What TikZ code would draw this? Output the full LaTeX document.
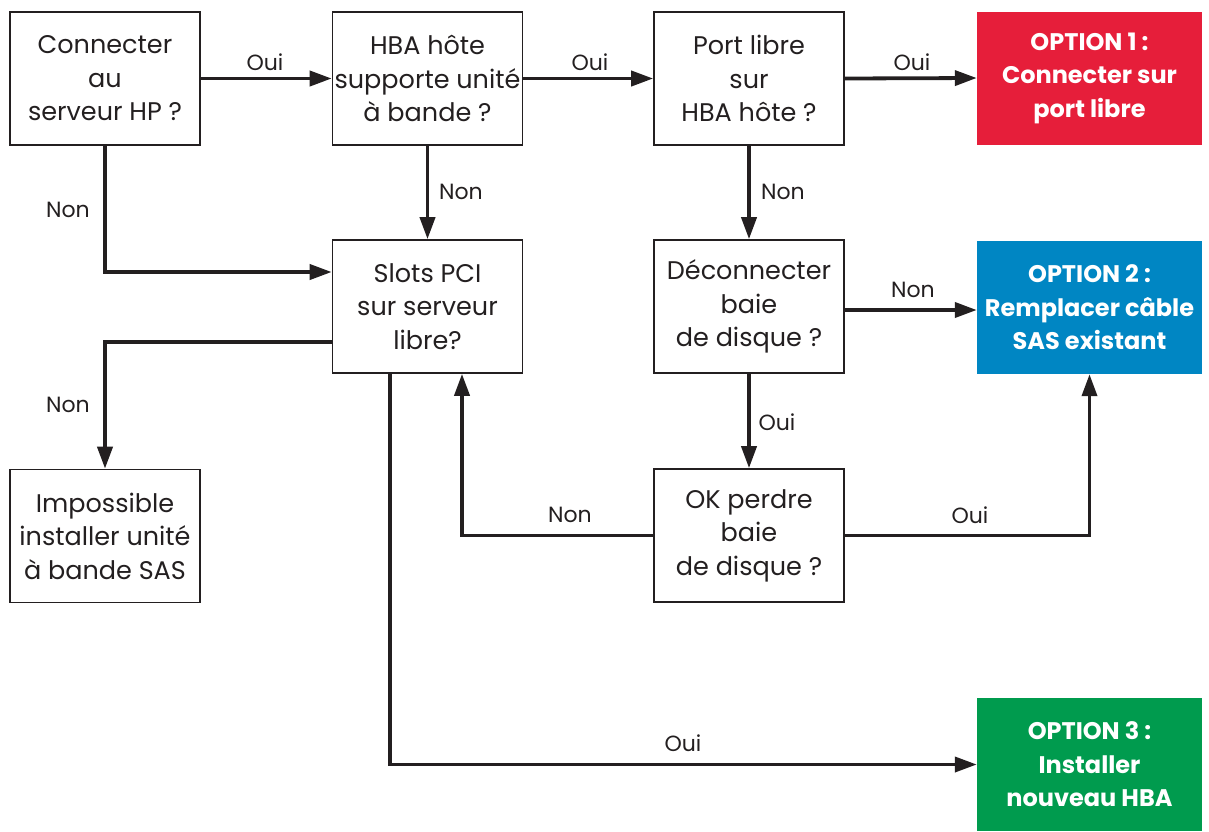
\documentclass[tikz,border=0pt]{standalone}
\usepackage{fontspec}
\setmainfont{Poppins}
\usetikzlibrary{arrows.meta}
\definecolor{optred}{RGB}{230,30,58}
\definecolor{optblue}{RGB}{0,134,195}
\definecolor{optgreen}{RGB}{0,155,78}
\definecolor{ink}{RGB}{35,31,32}
\begin{document}
\begin{tikzpicture}[x=1pt,y=-1pt,
  box/.style={draw=ink, line width=1.6pt, minimum width=190pt, minimum height=133pt,
    align=center, text=ink, font=\fontsize{25.5}{33.5}\selectfont, inner sep=0pt},
  opt/.style={fill=#1, minimum width=225pt, minimum height=133pt, align=center,
    text=white, font=\fontsize{24}{33.5}\selectfont\bfseries, inner sep=0pt},
  conn/.style={line width=3.8pt, draw=ink, -{Triangle[length=22pt,width=15pt]}},
  lbl/.style={font=\fontsize{22}{26}\selectfont, text=ink, inner sep=0pt}]
\path[use as bounding box] (0,0) rectangle (1209,831);

% boxes
\node[box] (b1) at (105,78.5) {Connecter\\au\\serveur HP ?};
\node[box] (b2) at (427.5,78.5) {HBA hôte\\supporte unité\\à bande ?};
\node[box] (b3) at (749,78.5) {Port libre\\sur\\HBA hôte ?};
\node[opt=optred] (o1) at (1089.5,78) {OPTION 1 :\\Connecter sur\\port libre};
\node[box] (slots) at (427.5,306.5) {Slots PCI\\sur serveur\\libre?};
\node[box] (decon) at (749,306.5) {Déconnecter\\baie\\de disque ?};
\node[opt=optblue] (o2) at (1089.5,307.5) {OPTION 2 :\\Remplacer câble\\SAS existant};
\node[box] (imp) at (105,536) {Impossible\\installer unité\\à bande SAS};
\node[box] (ok) at (749,535.5) {OK perdre\\baie\\de disque ?};
\node[opt=optgreen] (o3) at (1089.5,764.5) {OPTION 3 :\\Installer\\nouveau HBA};

% connectors
\draw[conn] (b1.east) -- (b2.west);
\draw[conn] (b2.east) -- (b3.west);
\draw[conn] (b3.east) -- (o1.west);
\draw[conn] (b1.south) |- (slots.west |- 0,272);
\draw[conn] (b2.south) -- (slots.north);
\draw[conn] (b3.south) -- (decon.north);
\draw[conn] (decon.east |- 0,310) -- (o2.west |- 0,310);
\draw[conn] (decon.south) -- (ok.north);
\draw[conn] (slots.west |- 0,342) -| (imp.north);
\draw[conn] (ok.west) -| (slots.south -| 462,0);
\draw[conn] (ok.east) -| (o2.south);
\draw[conn] (slots.south -| 390,0) |- (o3.west);

% labels
\node[lbl] (l1) at (265,62) {Oui};
\node[lbl] (l2) at (590,62) {Oui};
\node[lbl] (l3) at (912,62) {Oui};
\node[lbl] (l4) at (68,210) {Non};
\node[lbl] (l5) at (461,192) {Non};
\node[lbl] (l6) at (783,192) {Non};
\node[lbl] (l7) at (913,290) {Non};
\node[lbl] (l8) at (777,422) {Oui};
\node[lbl] (l9) at (68,405) {Non};
\node[lbl] (l10) at (570,515) {Non};
\node[lbl] (l11) at (970,515) {Oui};
\node[lbl] (l12) at (683,743) {Oui};
\end{tikzpicture}
\end{document}
